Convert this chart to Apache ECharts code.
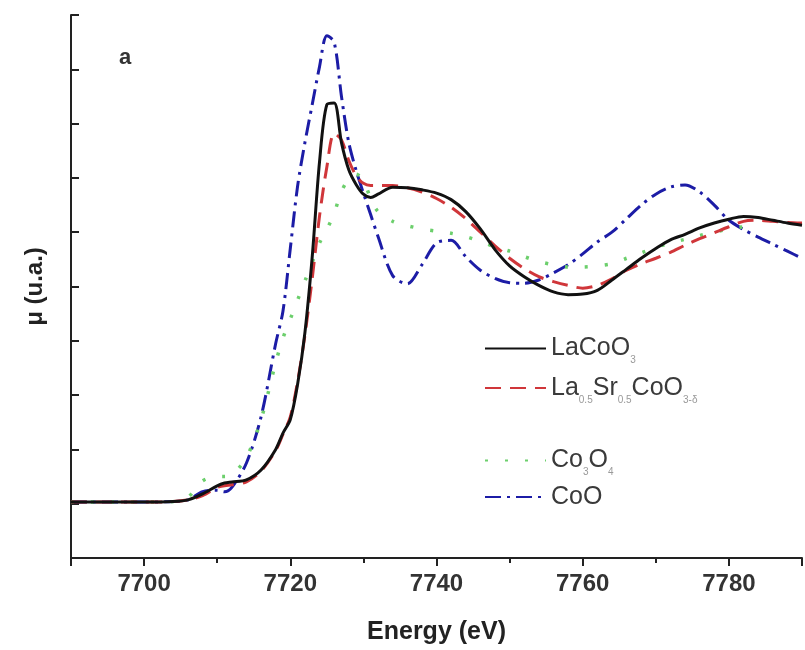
<!DOCTYPE html>
<html>
<head>
<meta charset="utf-8">
<script src="https://cdn.jsdelivr.net/npm/echarts@6/dist/echarts.min.js"></script>
<style>
  html, body { margin: 0; padding: 0; background: #fff; }
  #chart { width: 805px; height: 650px; }
</style>
</head>
<body>
<div id="chart"></div>
<script>
// energy grid (eV) shared by all spectra
const energy = [7690, 7700, 7704, 7706, 7708, 7710, 7711, 7712, 7714, 7716,
  7718, 7719, 7720, 7721, 7722, 7723, 7724, 7725, 7726, 7727,
  7728, 7729, 7730, 7731, 7732, 7734, 7736, 7738, 7740, 7742,
  7744, 7746, 7748, 7750, 7752, 7754, 7756, 7758, 7760, 7762,
  7764, 7766, 7768, 7770, 7772, 7774, 7776, 7778, 7780, 7782,
  7784, 7786, 7788, 7790];

const lacoo3 = [1.03, 1.03, 1.04, 1.07, 1.18, 1.33, 1.38, 1.40, 1.44, 1.62,
  2.00, 2.30, 2.55, 3.20, 4.15, 5.55, 7.30, 8.35, 8.38, 7.65,
  7.15, 6.88, 6.70, 6.64, 6.70, 6.83, 6.82, 6.78, 6.72, 6.60,
  6.38, 6.06, 5.68, 5.38, 5.18, 5.02, 4.90, 4.85, 4.86, 4.93,
  5.12, 5.32, 5.52, 5.70, 5.86, 5.96, 6.08, 6.17, 6.24, 6.29,
  6.27, 6.22, 6.17, 6.13];

const lasrcoo3 = [1.03, 1.03, 1.04, 1.07, 1.15, 1.30, 1.33, 1.35, 1.40, 1.60,
  1.98, 2.28, 2.60, 3.25, 4.10, 5.15, 6.30, 7.20, 7.82, 7.70,
  7.32, 7.04, 6.90, 6.86, 6.86, 6.86, 6.82, 6.74, 6.62, 6.46,
  6.25, 6.00, 5.75, 5.52, 5.33, 5.18, 5.09, 5.02, 4.97, 5.02,
  5.14, 5.30, 5.42, 5.52, 5.63, 5.76, 5.88, 5.99, 6.10, 6.20,
  6.22, 6.20, 6.18, 6.17];

const co3o4 = [1.03, 1.03, 1.04, 1.12, 1.42, 1.50, 1.50, 1.53, 1.85, 2.55,
  3.60, 4.05, 4.40, 4.75, 5.10, 5.45, 5.80, 6.05, 6.35, 6.75,
  6.98, 7.07, 6.95, 6.62, 6.38, 6.20, 6.12, 6.06, 6.02, 5.98,
  5.92, 5.83, 5.73, 5.65, 5.55, 5.46, 5.40, 5.36, 5.36, 5.38,
  5.42, 5.52, 5.62, 5.72, 5.80, 5.87, 5.94, 6.00, 6.06, 6.10,
  null, null, null, null];

const coo = [1.03, 1.03, 1.04, 1.07, 1.22, 1.25, 1.22, 1.30, 1.75, 2.60,
  3.95, 4.55, 5.70, 6.85, 7.65, 8.35, 9.05, 9.62, 9.50, 8.50,
  7.65, 7.14, 6.72, 6.32, 5.92, 5.20, 5.05, 5.40, 5.80, 5.85,
  5.55, 5.30, 5.15, 5.07, 5.06, 5.12, 5.25, 5.40, 5.60, 5.82,
  6.00, 6.25, 6.50, 6.70, 6.83, 6.87, 6.74, 6.50, 6.22, 6.05,
  5.91, 5.78, 5.65, 5.52];

const seriesNames = ['LaCoO3', 'La0.5Sr0.5CoO3-δ', 'Co3O4', 'CoO'];

const chart = echarts.init(document.getElementById('chart'));

function pairs(vals) {
  return energy.map((e, i) => [e, vals[i]]);
}

// legend labels with subscripts
const legendLabels = {
  'LaCoO3': '{m|LaCoO}{s|3}',
  'La0.5Sr0.5CoO3-δ': '{m|La}{s|0.5}{m|Sr}{s|0.5}{m|CoO}{s|3-δ}',
  'Co3O4': '{m|Co}{s|3}{m|O}{s|4}',
  'CoO': '{m|CoO}'
};
const legendText = {
  color: '#333',
  rich: {
    m: { fontSize: 25, lineHeight: 34, color: '#3a3a3a', fontFamily: 'Liberation Sans' },
    s: { fontSize: 10, lineHeight: 10, color: '#999', verticalAlign: 'bottom', fontFamily: 'Liberation Sans' }
  }
};
// hide the marker dot, keep only the line sample
const legendItem = { color: 'rgba(0,0,0,0)', borderWidth: 0 };

const option = {
  animation: false,
  backgroundColor: '#fff',
  grid: { left: 71, right: 1, top: 15, bottom: 92 },
  xAxis: {
    type: 'value',
    min: 7690,
    max: 7790,
    splitNumber: 5,
    name: 'Energy (eV)',
    nameLocation: 'middle',
    nameGap: 62,
    nameTextStyle: { fontSize: 25, fontWeight: 'bold', color: '#222', fontFamily: 'Liberation Sans' },
    axisLine: { onZero: false, lineStyle: { color: '#222', width: 2 } },
    axisTick: { inside: false, length: 8, lineStyle: { color: '#222', width: 2 } },
    minorTick: { show: true, splitNumber: 2, length: 5, lineStyle: { color: '#222', width: 2 } },
    axisLabel: {
      margin: 14, fontSize: 24, fontWeight: 'bold', color: '#333', fontFamily: 'Liberation Sans',
      formatter: v => (v % 20 === 0 ? String(v) : '')
    },
    splitLine: { show: false }
  },
  yAxis: {
    type: 'value',
    min: 0,
    max: 10,
    interval: 1,
    name: 'μ (u.a.)',
    nameLocation: 'middle',
    nameRotate: 90,
    nameGap: 24,
    nameTextStyle: { fontSize: 24, fontWeight: 'bold', color: '#222', fontFamily: 'Liberation Sans' },
    axisLine: { show: true, onZero: false, lineStyle: { color: '#222', width: 2 } },
    axisTick: { show: true, inside: true, length: 8, lineStyle: { color: '#222', width: 2 } },
    axisLabel: { show: false },
    splitLine: { show: false }
  },
  legend: [
    {
      orient: 'vertical', left: 479, top: 331, itemWidth: 61, itemHeight: 14, itemGap: 10,
      data: seriesNames.slice(0, 2),
      formatter: name => legendLabels[name],
      itemStyle: legendItem,
      textStyle: legendText
    },
    {
      orient: 'vertical', left: 479, top: 443, itemWidth: 61, itemHeight: 14, itemGap: 7,
      data: seriesNames.slice(2),
      formatter: name => legendLabels[name],
      itemStyle: legendItem,
      textStyle: legendText
    }
  ],
  graphic: [
    {
      type: 'text', left: 119, top: 47,
      style: { text: 'a', fontSize: 22, fontWeight: 'bold', fill: '#333', fontFamily: 'Liberation Sans' }
    }
  ],
  series: [
    {
      name: 'CoO', type: 'line', data: pairs(coo), smooth: 0.3, symbol: 'none',
      lineStyle: { color: '#1c1ca6', width: 3, type: [16, 6, 3, 6] },
      itemStyle: { color: '#1c1ca6' }
    },
    {
      name: 'Co3O4', type: 'line', data: pairs(co3o4), smooth: 0.3, symbol: 'none',
      lineStyle: { color: '#6ccf6c', width: 3.5, type: [3, 17] },
      itemStyle: { color: '#6ccf6c' }
    },
    {
      name: 'La0.5Sr0.5CoO3-δ', type: 'line', data: pairs(lasrcoo3), smooth: 0.3, symbol: 'none',
      lineStyle: { color: '#d0363a', width: 3, type: [16, 9] },
      itemStyle: { color: '#d0363a' }
    },
    {
      name: 'LaCoO3', type: 'line', data: pairs(lacoo3), smooth: 0.3, symbol: 'none',
      lineStyle: { color: '#111', width: 3 },
      itemStyle: { color: '#111' }
    }
  ]
};

chart.setOption(option);
</script>
</body>
</html>
